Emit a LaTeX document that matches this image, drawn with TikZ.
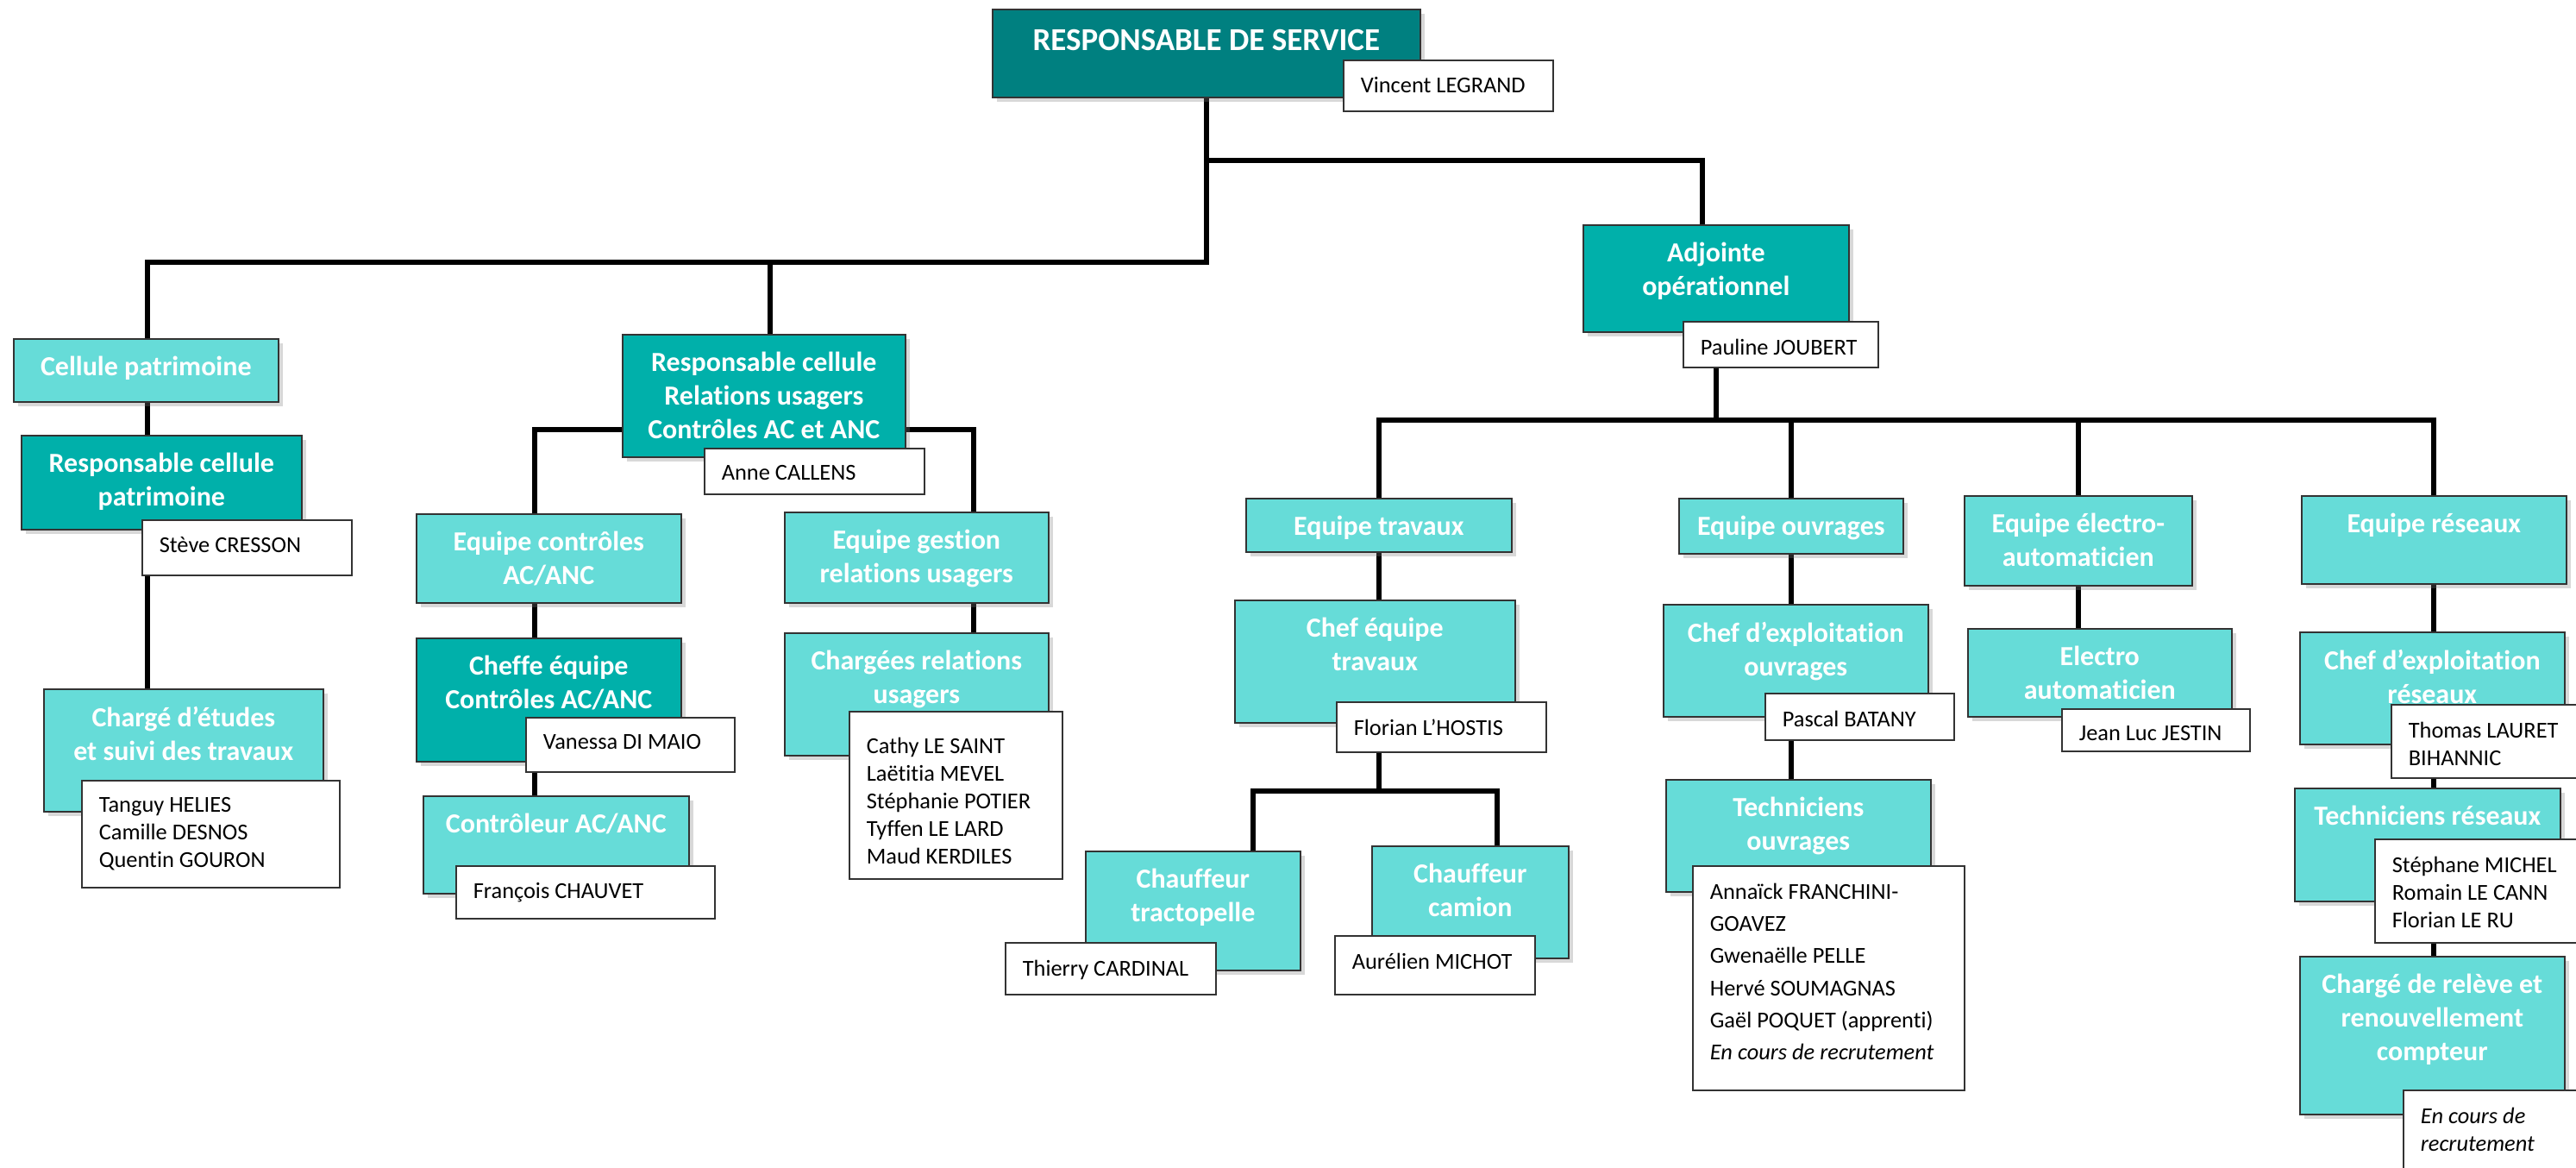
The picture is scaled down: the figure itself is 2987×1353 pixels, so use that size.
\documentclass[tikz,border=0pt]{standalone}
\usepackage{fontspec}
\setmainfont{Carlito}[Ligatures=NoCommon]
\usetikzlibrary{backgrounds,shadows}
\definecolor{svcdark}{RGB}{0,128,128}
\definecolor{svcmid}{RGB}{0,176,170}
\definecolor{svclight}{RGB}{102,220,216}
\newcommand{\pxu}{0.25pt}
\tikzset{
	orgcard/.style={draw=black!80, line width=0.4pt, anchor=north west, inner sep=0pt,
		drop shadow={shadow xshift=1.2pt, shadow yshift=-1.2pt, opacity=0.3}},
	darkcard/.style={orgcard, fill=svcdark},
	midcard/.style={orgcard, fill=svcmid},
	lightcard/.style={orgcard, fill=svclight},
	namecard/.style={draw=black!80, line width=0.4pt, fill=white, anchor=north west, inner sep=0pt},
	boxtitle/.style={anchor=north, inner sep=0pt, yshift=-5pt, align=center, text=white,
		font=\fontsize{8}{9.75}\selectfont\bfseries},
	nametext/.style={anchor=north west, inner sep=0pt, xshift=5pt, yshift=-5pt, align=left,
		font=\fontsize{6.6}{8}\selectfont},
	link/.style={line width=1.5pt, black}
}
\newcommand{\orgbox}[8][]{
	\node[#3, minimum width=#6*\pxu, minimum height=#7*\pxu] (#2) at (#4,#5) {};
	\node[boxtitle, #1] (#2-t) at (#2.north) {#8};
}
\newcommand{\namebox}[7][]{
	\node[namecard, minimum width=#5*\pxu, minimum height=#6*\pxu] (#2) at (#3,#4) {};
	\node[nametext, #1] (#2-t) at (#2.north west) {#7};
}

\begin{document}
\begin{tikzpicture}[x=\pxu,y=-\pxu]
	\useasboundingbox (0,0) rectangle (2987,1353);

	\orgbox[font=\fontsize{9.25}{11}\selectfont\bfseries, yshift=-0.75pt]{resp}{darkcard}{1150}{10}{496}{102}{RESPONSABLE DE SERVICE}
	\namebox{vincent}{1557}{69}{243}{59}{Vincent LEGRAND}
	\orgbox{adj}{midcard}{1835}{260}{308}{124}{Adjointe\\opérationnel}
	\namebox{pauline}{1951}{372}{226}{53}{Pauline JOUBERT}

	% cellule patrimoine
	\orgbox{cellpat}{lightcard}{15}{392}{307}{73}{Cellule patrimoine}
	\orgbox{respat}{midcard}{24}{504}{325}{109}{Responsable cellule\\patrimoine}
	\namebox{steve}{164}{602}{243}{64}{Stève CRESSON}
	\orgbox{etudes}{lightcard}{50}{798}{324}{142}{Chargé d’études\\et suivi des travaux}
	\namebox{etudesnames}{94}{904}{299}{124}{Tanguy HELIES\\Camille DESNOS\\Quentin GOURON}

	% relations usagers
	\orgbox{relresp}{midcard}{721}{387}{328}{142}{Responsable cellule\\Relations usagers\\Contrôles AC et ANC}
	\namebox{anne}{816}{519}{255}{53}{Anne CALLENS}
	\orgbox{eqctrl}{lightcard}{482}{595}{307}{103}{Equipe contrôles\\AC/ANC}
	\orgbox{cheffe}{midcard}{482}{739}{307}{143}{Cheffe équipe\\Contrôles AC/ANC}
	\namebox{vanessa}{609}{831}{242}{63}{Vanessa DI MAIO}
	\orgbox{ctrl}{lightcard}{490}{922}{308}{113}{Contrôleur AC/ANC}
	\namebox{francois}{528}{1003}{300}{61}{François CHAUVET}
	\orgbox{eqgest}{lightcard}{909}{593}{306}{105}{Equipe gestion\\relations usagers}
	\orgbox{chrel}{lightcard}{909}{733}{306}{142}{Chargées relations\\usagers}
	\namebox[yshift=-2.5pt]{chrelnames}{984}{824}{247}{194}{Cathy LE SAINT\\Laëtitia MEVEL\\Stéphanie POTIER\\Tyffen LE LARD\\Maud KERDILES}

	% travaux
	\orgbox{eqtrav}{lightcard}{1444}{577}{308}{62}{Equipe travaux}
	\orgbox{cheftrav}{lightcard}{1431}{695}{325}{142}{Chef équipe\\travaux}
	\namebox{florian}{1549}{813}{243}{58}{Florian L’HOSTIS}
	\orgbox{tracto}{lightcard}{1258}{986}{249}{138}{Chauffeur\\tractopelle}
	\namebox{thierry}{1165}{1092}{244}{60}{Thierry CARDINAL}
	\orgbox{camion}{lightcard}{1590}{980}{228}{130}{Chauffeur\\camion}
	\namebox{aurelien}{1547}{1084}{232}{68}{Aurélien MICHOT}

	% ouvrages
	\orgbox{eqouv}{lightcard}{1946}{577}{260}{64}{Equipe ouvrages}
	\orgbox{chefouv}{lightcard}{1928}{700}{307}{130}{Chef d’exploitation\\ouvrages}
	\namebox{pascal}{2046}{803}{219}{54}{Pascal BATANY}
	\orgbox{techouv}{lightcard}{1931}{903}{307}{130}{Techniciens\\ouvrages}
	\namebox[font=\fontsize{6.6}{9.33}\selectfont]{techouvnames}{1962}{1003}{315}{260}{Annaïck FRANCHINI-\\GOAVEZ\\Gwenaëlle PELLE\\Hervé SOUMAGNAS\\Gaël POQUET (apprenti)\\\textit{En cours de recrutement}}

	% electro
	\orgbox{eqelec}{lightcard}{2277}{574}{264}{104}{Equipe électro-\\automaticien}
	\orgbox{elec}{lightcard}{2281}{728}{306}{102}{Electro\\automaticien}
	\namebox{jeanluc}{2390}{821}{218}{49}{Jean Luc JESTIN}

	% reseaux
	\orgbox{eqres}{lightcard}{2668}{574}{307}{102}{Equipe réseaux}
	\orgbox{chefres}{lightcard}{2666}{732}{307}{130}{Chef d’exploitation\\réseaux}
	\namebox{thomas}{2772}{816}{230}{85}{Thomas LAURET\\BIHANNIC}
	\orgbox{techres}{lightcard}{2660}{913}{308}{131}{Techniciens réseaux}
	\namebox{techresnames}{2753}{972}{245}{120}{Stéphane MICHEL\\Romain LE CANN\\Florian LE RU}
	\orgbox{releve}{lightcard}{2666}{1108}{307}{183}{Chargé de relève et\\renouvellement\\compteur}
	\namebox{relevenames}{2786}{1263}{215}{100}{\textit{En cours de}\\\textit{recrutement}}

	\coordinate (leftbar) at (171,304);
	\coordinate (rightbar) at (1974,186);
	\coordinate (reldrop) at (893,304);
	\coordinate (relbarl) at (620,498);
	\coordinate (relbarr) at (1129,498);
	\coordinate (opsbar) at (2000,487);
	\coordinate (trbarl) at (1453,917);
	\coordinate (trbarr) at (1736,917);

	\begin{pgfonlayer}{background}
	\fill[white] (0,0) rectangle (2987,1353);
	\draw[link] (resp.south) -- (resp.south |- leftbar) -- (leftbar) -- (leftbar |- etudes.north);
	\draw[link] (resp.south |- rightbar) -- (rightbar) -- (rightbar |- adj.north);
	\draw[link] (reldrop) -- (reldrop |- relresp.north);
	\draw[link] (relbarl |- ctrl.north) -- (relbarl) -- (relbarr) -- (relbarr |- chrel.north);
	\draw[link] (adj.south) -- (adj.south |- opsbar);
	\draw[link] (eqtrav.north) |- (opsbar) -| (eqres.north);
	\foreach \team in {eqouv,eqelec}
		\draw[link] (\team.north) -- (\team.north |- opsbar);
	\draw[link] (eqtrav.south) -- (eqtrav.south |- trbarl);
	\draw[link] (trbarl |- tracto.north) -- (trbarl) -- (trbarr) -- (trbarr |- camion.north);
	\draw[link] (eqouv.south) -- (eqouv.south |- techouv.north);
	\draw[link] (eqelec.south) -- (eqelec.south |- elec.north);
	\draw[link] (eqres.south) -- (eqres.south |- releve.north);
	\end{pgfonlayer}
\end{tikzpicture}
\end{document}
